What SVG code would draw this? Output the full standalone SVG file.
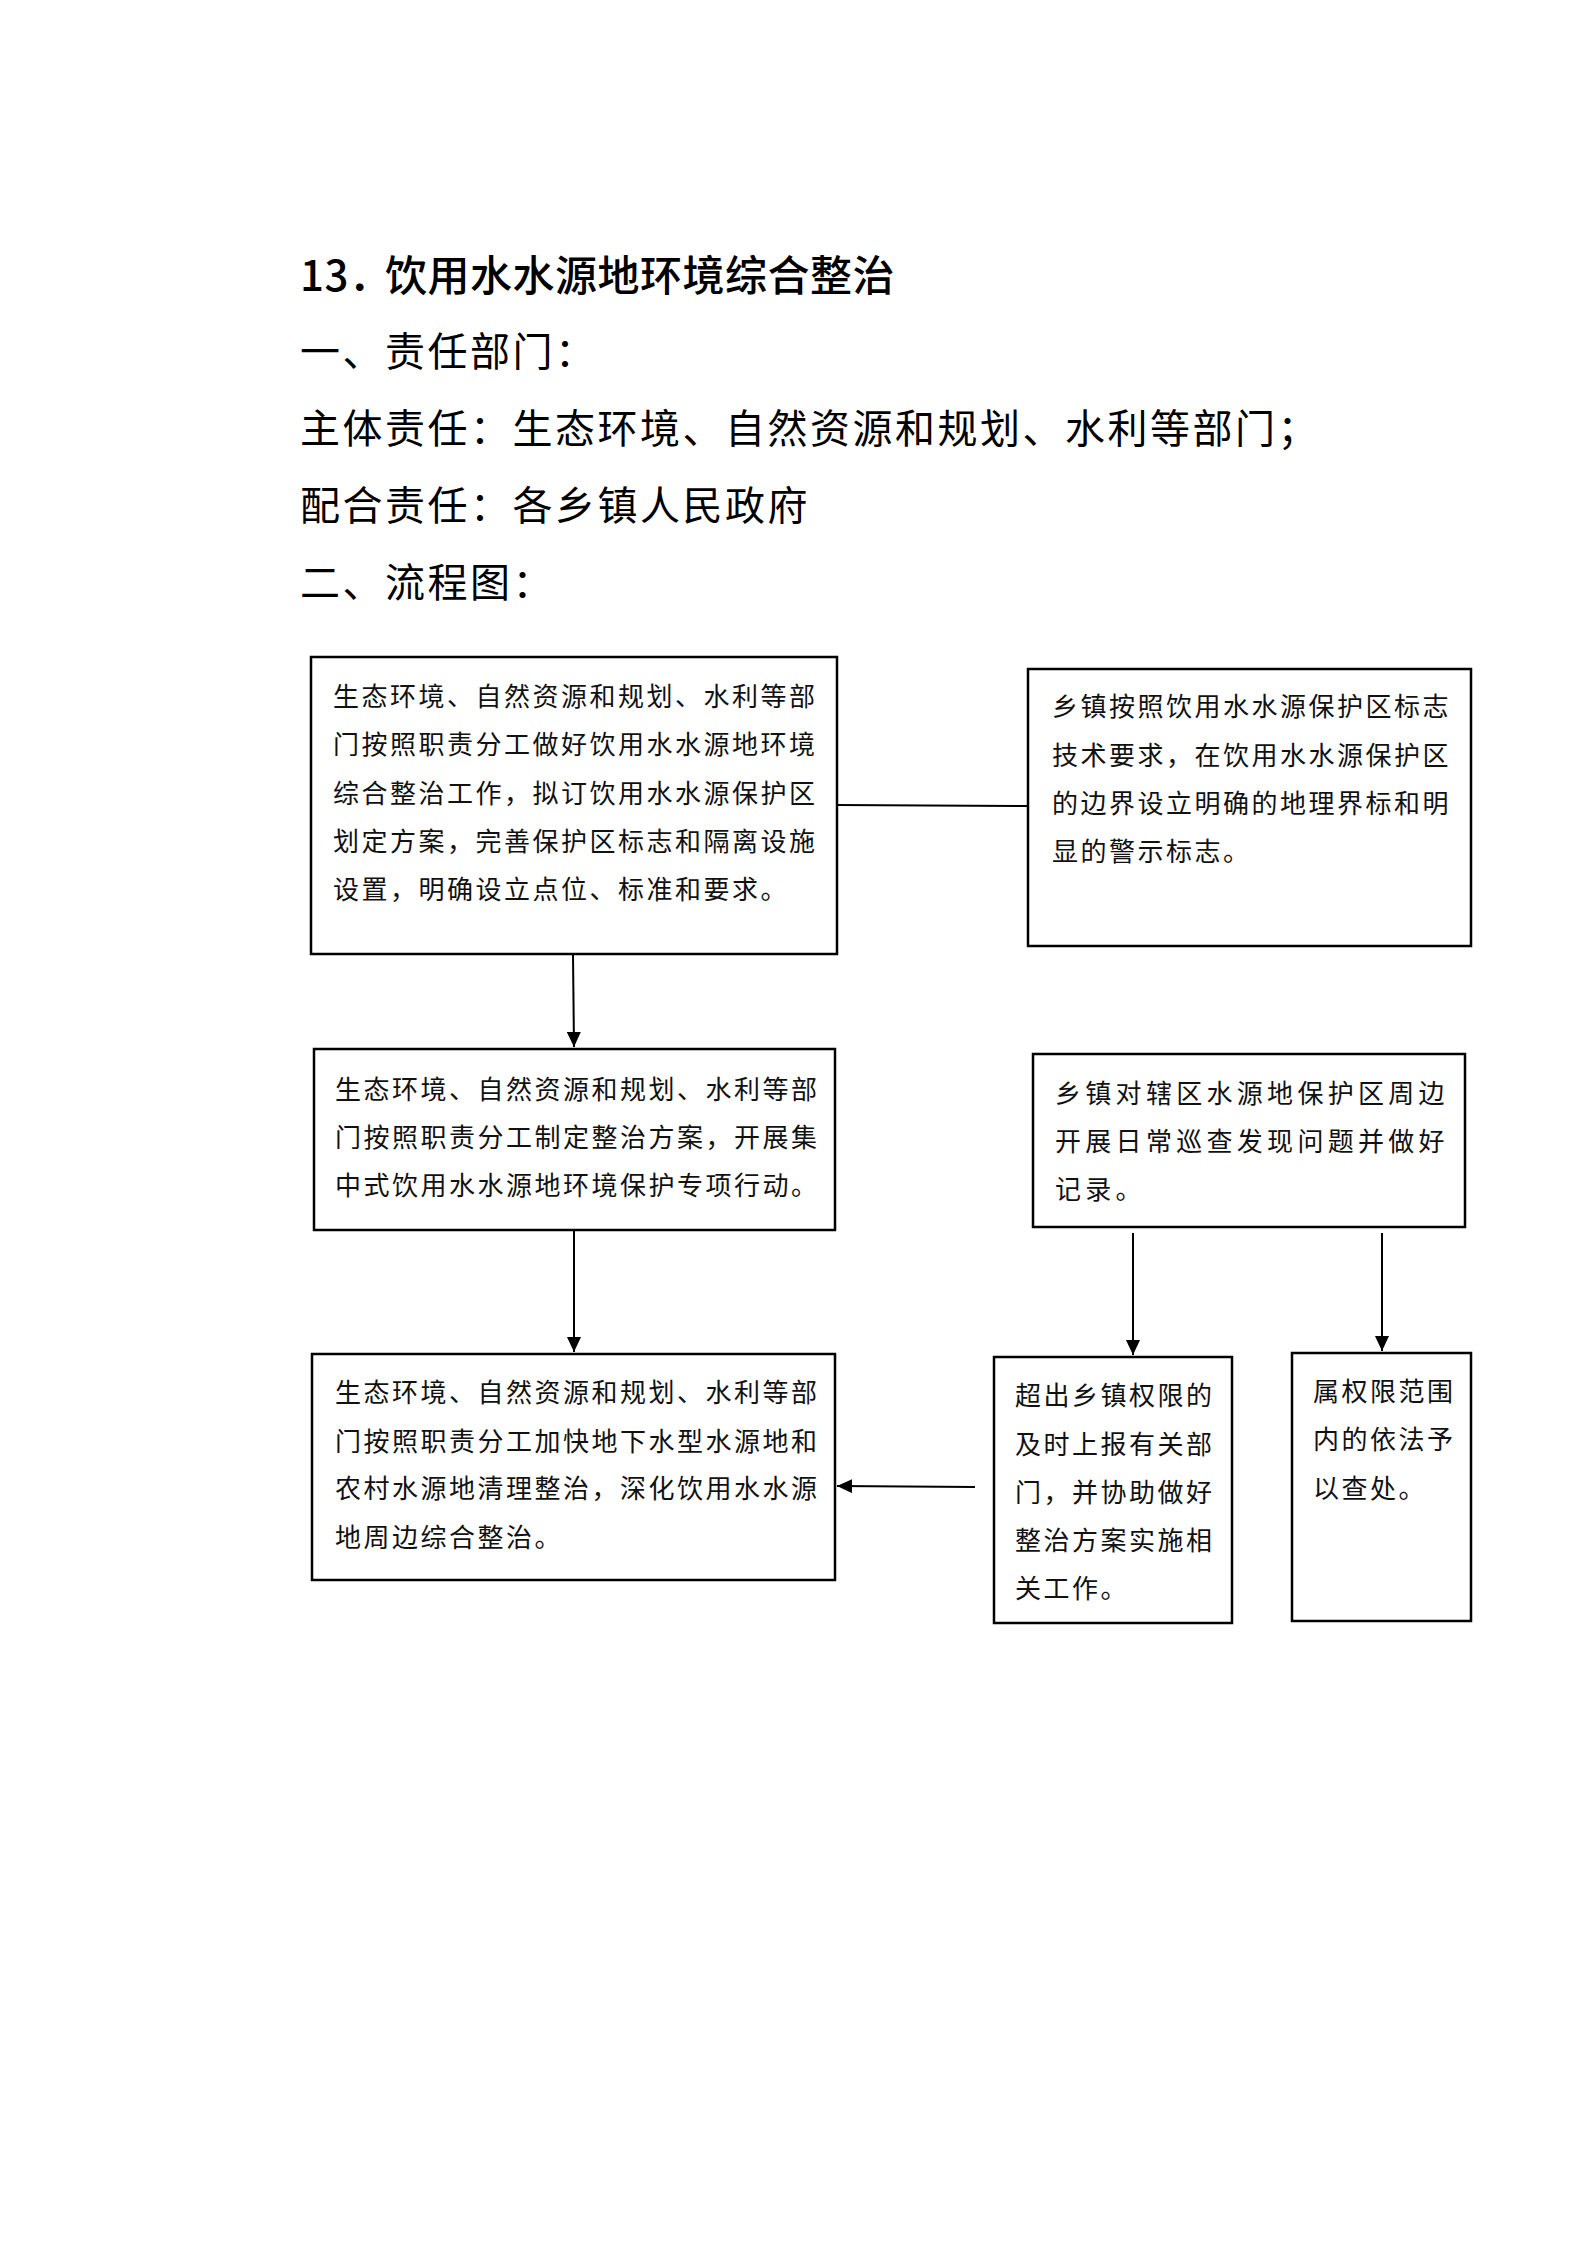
<svg xmlns="http://www.w3.org/2000/svg" width="1587" height="2245" viewBox="0 0 1587 2245">
<style>
.h{font-family:"Noto Sans CJK SC","Liberation Sans",sans-serif;fill:#000}
.title{font-size:42px;letter-spacing:0.5px;font-weight:500}
.sub{font-size:40px;letter-spacing:2.5px}
.t{font-family:"Noto Sans CJK SC",sans-serif;font-size:26px;letter-spacing:2.5px;fill:#111}
.tw{letter-spacing:4.3px}
.box{fill:#fff;stroke:#000;stroke-width:2.5}
.ln{fill:none;stroke:#000;stroke-width:2}
</style>
<defs>
<marker id="ah" viewBox="0 0 15 14" refX="15" refY="7" markerWidth="15" markerHeight="14" markerUnits="userSpaceOnUse" orient="auto">
<path d="M0,0 L15,7 L0,14 Z" fill="#000"/>
</marker>
</defs>
<rect width="1587" height="2245" fill="#fff"/>
<g id="header">
<text class="h title" y="291"><tspan x="300">13．</tspan><tspan x="385">饮用水水源地环境综合整治</tspan></text>
<text class="h sub" x="300" y="366">一、责任部门：</text>
<text class="h sub" x="300" y="443">主体责任：生态环境、自然资源和规划、水利等部门；</text>
<text class="h sub" x="300" y="520">配合责任：各乡镇人民政府</text>
<text class="h sub" x="300" y="597">二、流程图：</text>
</g>
<g id="connectors">
<line class="ln" x1="837" y1="805" x2="1028" y2="806"/>
<line class="ln" x1="573" y1="955" x2="574" y2="1047" marker-end="url(#ah)"/>
<line class="ln" x1="574" y1="1231" x2="574" y2="1352" marker-end="url(#ah)"/>
<line class="ln" x1="1133" y1="1233" x2="1133" y2="1355" marker-end="url(#ah)"/>
<line class="ln" x1="1382" y1="1233" x2="1382" y2="1351" marker-end="url(#ah)"/>
<line class="ln" x1="975" y1="1487" x2="837" y2="1486" marker-end="url(#ah)"/>
</g>
<g id="nodeA">
<rect class="box" x="311" y="657" width="526" height="297"/>
<text class="t" x="333"><tspan x="333" y="706">生态环境、自然资源和规划、水利等部</tspan><tspan x="333" y="754">门按照职责分工做好饮用水水源地环境</tspan><tspan x="333" y="803">综合整治工作，拟订饮用水水源保护区</tspan><tspan x="333" y="851">划定方案，完善保护区标志和隔离设施</tspan><tspan x="333" y="899">设置，明确设立点位、标准和要求。</tspan></text>
</g>
<g id="nodeB">
<rect class="box" x="1028" y="669" width="443" height="277"/>
<text class="t" x="1052"><tspan x="1052" y="716">乡镇按照饮用水水源保护区标志</tspan><tspan x="1052" y="765">技术要求，在饮用水水源保护区</tspan><tspan x="1052" y="813">的边界设立明确的地理界标和明</tspan><tspan x="1052" y="861">显的警示标志。</tspan></text>
</g>
<g id="nodeC">
<rect class="box" x="314" y="1049" width="521" height="181"/>
<text class="t" x="335"><tspan x="335" y="1099">生态环境、自然资源和规划、水利等部</tspan><tspan x="335" y="1147">门按照职责分工制定整治方案，开展集</tspan><tspan x="335" y="1195">中式饮用水水源地环境保护专项行动。</tspan></text>
</g>
<g id="nodeD">
<rect class="box" x="1033" y="1054" width="432" height="173"/>
<text class="t tw" x="1055"><tspan x="1055" y="1103">乡镇对辖区水源地保护区周边</tspan><tspan x="1055" y="1151">开展日常巡查发现问题并做好</tspan><tspan x="1055" y="1199">记录。</tspan></text>
</g>
<g id="nodeE">
<rect class="box" x="312" y="1354" width="523" height="226"/>
<text class="t" x="335"><tspan x="335" y="1402">生态环境、自然资源和规划、水利等部</tspan><tspan x="335" y="1451">门按照职责分工加快地下水型水源地和</tspan><tspan x="335" y="1498">农村水源地清理整治，深化饮用水水源</tspan><tspan x="335" y="1547">地周边综合整治。</tspan></text>
</g>
<g id="nodeF">
<rect class="box" x="994" y="1357" width="238" height="266"/>
<text class="t" x="1015"><tspan x="1015" y="1405">超出乡镇权限的</tspan><tspan x="1015" y="1454">及时上报有关部</tspan><tspan x="1015" y="1502">门，并协助做好</tspan><tspan x="1015" y="1550">整治方案实施相</tspan><tspan x="1015" y="1598">关工作。</tspan></text>
</g>
<g id="nodeG">
<rect class="box" x="1292" y="1353" width="179" height="268"/>
<text class="t" x="1313"><tspan x="1313" y="1401">属权限范围</tspan><tspan x="1313" y="1449">内的依法予</tspan><tspan x="1313" y="1498">以查处。</tspan></text>
</g>
</svg>
